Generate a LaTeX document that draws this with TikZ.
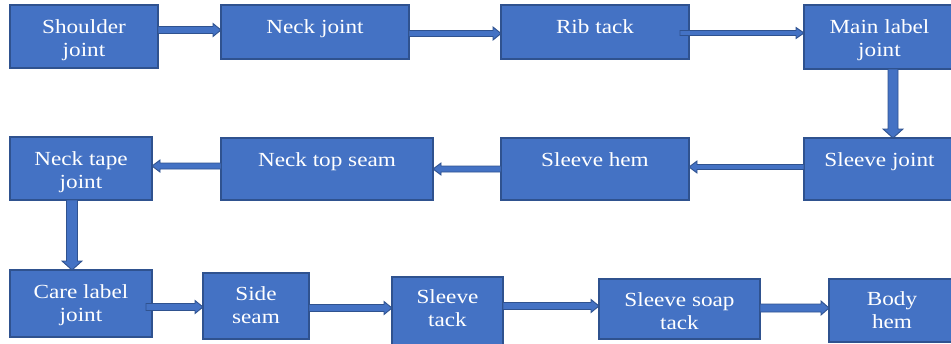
\documentclass[tikz,border=0pt]{standalone}
\usepackage{fontspec}
\setmainfont{Liberation Serif}[FakeStretch=1.16]
\usetikzlibrary{calc}
\definecolor{boxfill}{HTML}{4472C4}
\definecolor{boxline}{HTML}{2F528F}
\tikzset{
  box/.style={draw=boxline, fill=boxfill, line width=1.4pt, rectangle, inner sep=0pt, outer sep=0pt},
  txt/.style={text=white, anchor=base, inner sep=0pt, font=\fontsize{20}{23}\selectfont},
  blockarr/.style={fill=boxfill, draw=boxline, line width=0.9pt, line join=miter}
}
% #1 start, #2 tip, #3 shaft half-width, #4 head half-width, #5 head length
\newcommand{\blockarrow}[5]{%
  \coordinate (bac) at ($(#2)!#5!(#1)$);
  \filldraw[blockarr] ($(#1)!#3!90:(#2)$) -- ($(bac)!#3!-90:(#1)$) -- ($(bac)!#4!-90:(#1)$) -- (#2) -- ($(bac)!#4!90:(#1)$) -- ($(bac)!#3!90:(#1)$) -- ($(#1)!#3!-90:(#2)$) -- cycle;}
\newcommand{\tl}[2]{\begin{tabular}[t]{@{}c@{}}#1\\#2\end{tabular}}
\begin{document}
\begin{tikzpicture}[x=1pt,y=-1pt]
\useasboundingbox (0,0) rectangle (951,343);
\clip (0,0) rectangle (951,343);
% boxes
\node[box, minimum width=148pt, minimum height=63pt] (b1) at (84,36.5) {};
\node[box, minimum width=188pt, minimum height=54pt] (b2) at (315,32) {};
\node[box, minimum width=188pt, minimum height=54pt] (b3) at (595,32) {};
\node[box, minimum width=151pt, minimum height=64pt] (b4) at (879.5,37) {};
\node[box, minimum width=151pt, minimum height=62pt] (b5) at (879.5,169) {};
\node[box, minimum width=188pt, minimum height=62pt] (b6) at (595,169) {};
\node[box, minimum width=212pt, minimum height=62pt] (b7) at (327,169) {};
\node[box, minimum width=142pt, minimum height=63pt] (b8) at (81,168.5) {};
\node[box, minimum width=142pt, minimum height=67pt] (b9) at (81,303.5) {};
\node[box, minimum width=106pt, minimum height=66pt] (b10) at (256,306) {};
\node[box, minimum width=111pt, minimum height=69pt] (b11) at (447.5,311.5) {};
\node[box, minimum width=161pt, minimum height=60pt] (b12) at (679.5,309) {};
\node[box, minimum width=126pt, minimum height=63pt] (b13) at (892,310.5) {};
% texts
\node[txt] (t1) at ($(b1.north)+(0,28)$) {\tl{Shoulder}{joint}};
\node[txt] (t2) at ($(b2.north)+(0,28)$) {Neck joint};
\node[txt] (t3) at ($(b3.north)+(0,28)$) {Rib tack};
\node[txt] (t4) at ($(b4.north)+(0,28)$) {\tl{Main label}{joint}};
\node[txt] (t5) at ($(b5.north)+(0,28)$) {Sleeve joint};
\node[txt] (t6) at ($(b6.north)+(0,28)$) {Sleeve hem};
\node[txt] (t7) at ($(b7.north)+(0,28)$) {Neck top seam};
\node[txt] (t8) at ($(b8.north)+(0,28)$) {\tl{Neck tape}{joint}};
\node[txt] (t9) at ($(b9.north)+(0,28)$) {\tl{Care label}{joint}};
\node[txt] (t10) at ($(b10.north)+(0,27)$) {\tl{Side}{seam}};
\node[txt] (t11) at ($(b11.north)+(0,26)$) {\tl{Sleeve}{tack}};
\node[txt] (t12) at ($(b12.north)+(0,27)$) {\tl{Sleeve soap}{tack}};
\node[txt] (t13) at ($(b13.north)+(0,26)$) {\tl{Body}{hem}};
% arrow end points
\coordinate (a1s) at (b1.east |- 0,30);   \coordinate (a1e) at (b2.west |- 0,30);
\coordinate (a2s) at (b2.east |- 0,33.5); \coordinate (a2e) at (b3.west |- 0,33.5);
\coordinate (a3s) at ($(b3.east |- 0,33)+(-9,0)$); \coordinate (a3e) at (b4.west |- 0,33);
\coordinate (a4s) at (b4.south -| 893,0); \coordinate (a4e) at (b5.north -| 893,0);
\coordinate (a5s) at (b5.west |- 0,167);  \coordinate (a5e) at (b6.east |- 0,167);
\coordinate (a6s) at (b6.west |- 0,169);  \coordinate (a6e) at (b7.east |- 0,169);
\coordinate (a7s) at (b7.west |- 0,166);  \coordinate (a7e) at (b8.east |- 0,166);
\coordinate (a8s) at (b8.south -| 72,0);  \coordinate (a8e) at (b9.north -| 72,0);
\coordinate (a9s) at ($(b9.east |- 0,307)+(-6,0)$);  \coordinate (a9e) at (b10.west |- 0,307);
\coordinate (a10s) at (b10.east |- 0,308); \coordinate (a10e) at (b11.west |- 0,308);
\coordinate (a11s) at (b11.east |- 0,306); \coordinate (a11e) at (b12.west |- 0,306);
\coordinate (a12s) at (b12.east |- 0,308); \coordinate (a12e) at (b13.west |- 0,308);
% arrows
\blockarrow{a1s}{a1e}{3.5pt}{6.5pt}{8pt}
\blockarrow{a2s}{a2e}{3pt}{6.5pt}{8pt}
\blockarrow{a3s}{a3e}{2.5pt}{5.5pt}{8pt}
\blockarrow{a4s}{a4e}{5pt}{10pt}{9pt}
\blockarrow{a5s}{a5e}{2.5pt}{6pt}{8pt}
\blockarrow{a6s}{a6e}{3pt}{6pt}{8pt}
\blockarrow{a7s}{a7e}{3pt}{6pt}{8pt}
\blockarrow{a8s}{a8e}{5.5pt}{10pt}{9pt}
\blockarrow{a9s}{a9e}{3.5pt}{6.5pt}{8pt}
\blockarrow{a10s}{a10e}{3.5pt}{6.5pt}{8pt}
\blockarrow{a11s}{a11e}{3.5pt}{6.5pt}{8pt}
\blockarrow{a12s}{a12e}{4pt}{7pt}{8pt}
\end{tikzpicture}
\end{document}
